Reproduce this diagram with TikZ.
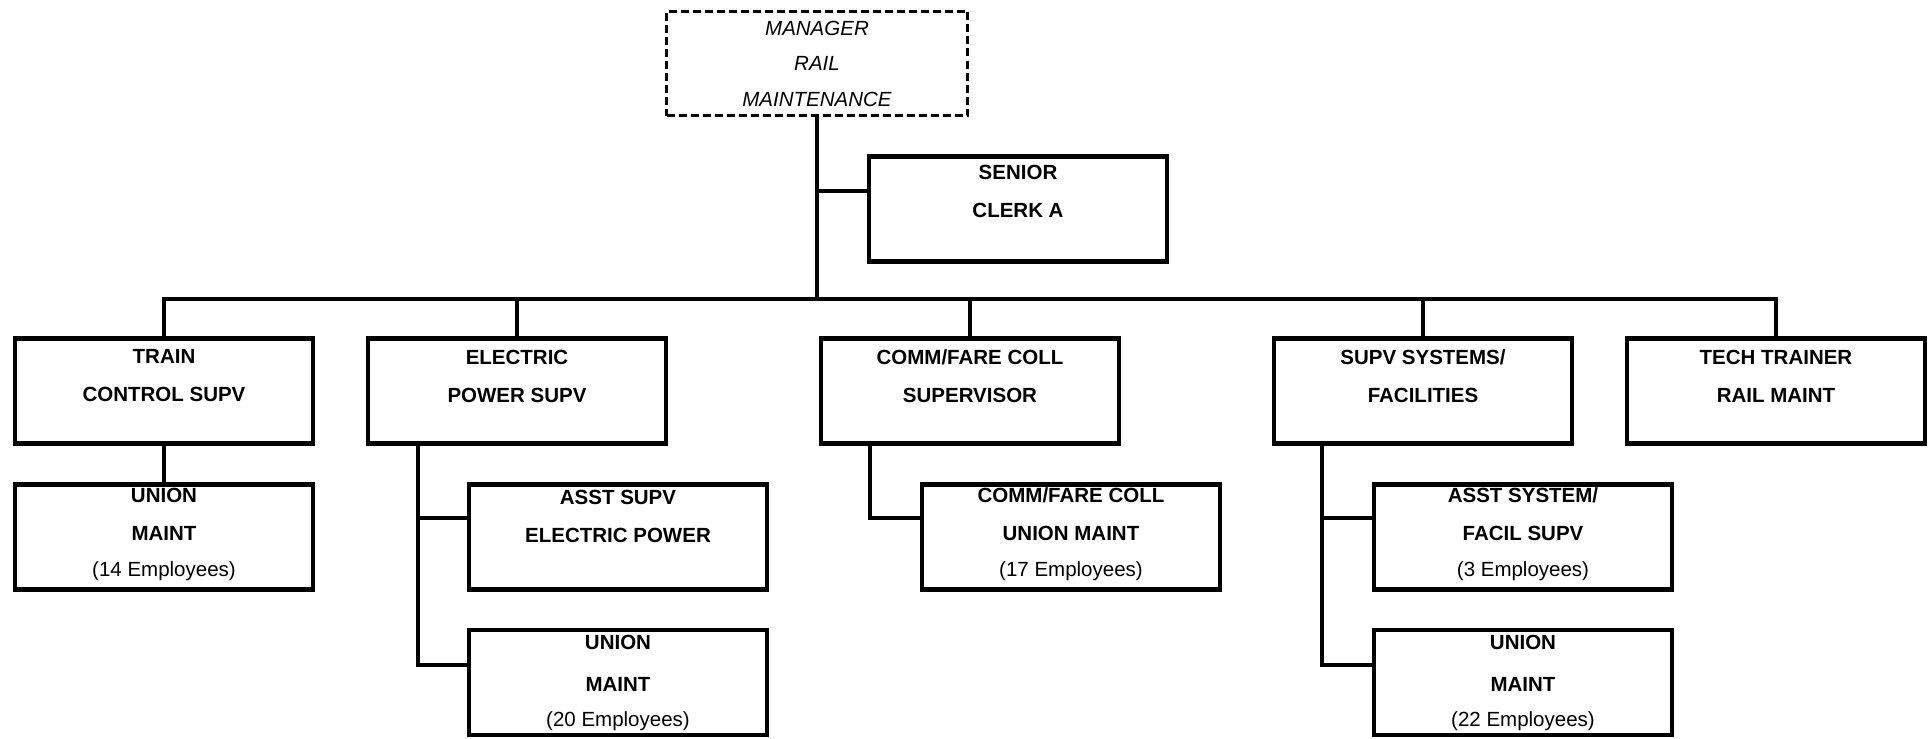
\documentclass[tikz,border=0pt]{standalone}
\usepackage{fontspec}
\setmainfont{Liberation Sans}
% extra depth below the last line of a box text
\newcommand{\lowpad}{\rule[-10bp]{0pt}{10bp}}
\begin{document}
\begin{tikzpicture}[x=1bp,y=-1bp,
  box/.style={draw, line width=4.8bp, minimum width=298bp, minimum height=105bp,
    inner sep=0pt, align=center,
    font=\fontsize{20.5bp}{38bp}\selectfont\bfseries},
  headbox/.style={draw, line width=2.5bp, dash pattern=on 8bp off 4bp,
    minimum width=301bp, minimum height=104bp, inner sep=0pt, align=center,
    font=\fontsize{20.5bp}{35.5bp}\selectfont\itshape},
  conn/.style={line width=4.8bp}]
\useasboundingbox (0,0) rectangle (1932,739);

% top
\node[headbox] (mgr) at (817,63.5) {MANAGER\\RAIL\\MAINTENANCE};
\node[box] (clerk) at (1018,209) {SENIOR\\CLERK A\\[-7bp]\phantom{(}};

% first level
\node[box] (train) at (164,391) {TRAIN\\CONTROL SUPV\\[-12bp]\phantom{(}};
\node[box] (elec)  at (517,391) {ELECTRIC\\POWER SUPV\\[-12bp]\phantom{(}};
\node[box] (comm)  at (970,391) {COMM/FARE COLL\\SUPERVISOR\\[-12bp]\phantom{(}};
\node[box] (supv)  at (1423,391) {SUPV SYSTEMS/\\FACILITIES\\[-12bp]\phantom{(}};
\node[box] (tech)  at (1776,391) {TECH TRAINER\\RAIL MAINT\\[-12bp]\phantom{(}};

% second level
\node[box] (u14)  at (164,537) {UNION\\MAINT\\[-2bp]{\mdseries (14 Employees)}\lowpad};
\node[box] (asst) at (618,537) {ASST SUPV\\ELECTRIC POWER\\\phantom{(}};
\node[box] (cu)   at (1071,537) {COMM/FARE COLL\\UNION MAINT\\[-2bp]{\mdseries (17 Employees)}\lowpad};
\node[box] (asys) at (1523,537) {ASST SYSTEM/\\FACIL SUPV\\[-2bp]{\mdseries (3 Employees)}\lowpad};

% third level
\node[box] (u20) at (618,682.5) {UNION\\[4bp]MAINT\\[-3bp]{\mdseries (20 Employees)}};
\node[box] (u22) at (1523,682.5) {UNION\\[4bp]MAINT\\[-3bp]{\mdseries (22 Employees)}};

% trunk and bus
\coordinate (bus) at (819,299);
\draw[conn] (mgr.south) -- (mgr.south |- bus);
\draw[conn] (mgr.south |- 0,191) -- (clerk.west |- 0,191);
\draw[conn] (train.north) -- (train.north |- bus) -- (tech.north |- bus) -- (tech.north);
\foreach \n in {elec,comm,supv}
  \draw[conn] (\n.north) -- (\n.north |- bus);

% sub-trunks
\coordinate (etop) at ([xshift=-99bp]elec.south);
\coordinate (ctop) at ([xshift=-100bp]comm.south);
\coordinate (stop) at ([xshift=-101bp]supv.south);

\draw[conn] (train.south) -- (u14.north);
\draw[conn] (etop) -- (etop |- 0,665) -- (u20.west |- 0,665);
\draw[conn] (etop |- 0,518) -- (asst.west |- 0,518);
\draw[conn] (ctop) -- (ctop |- 0,518) -- (cu.west |- 0,518);
\draw[conn] (stop) -- (stop |- 0,665) -- (u22.west |- 0,665);
\draw[conn] (stop |- 0,518) -- (asys.west |- 0,518);
\end{tikzpicture}
\end{document}
